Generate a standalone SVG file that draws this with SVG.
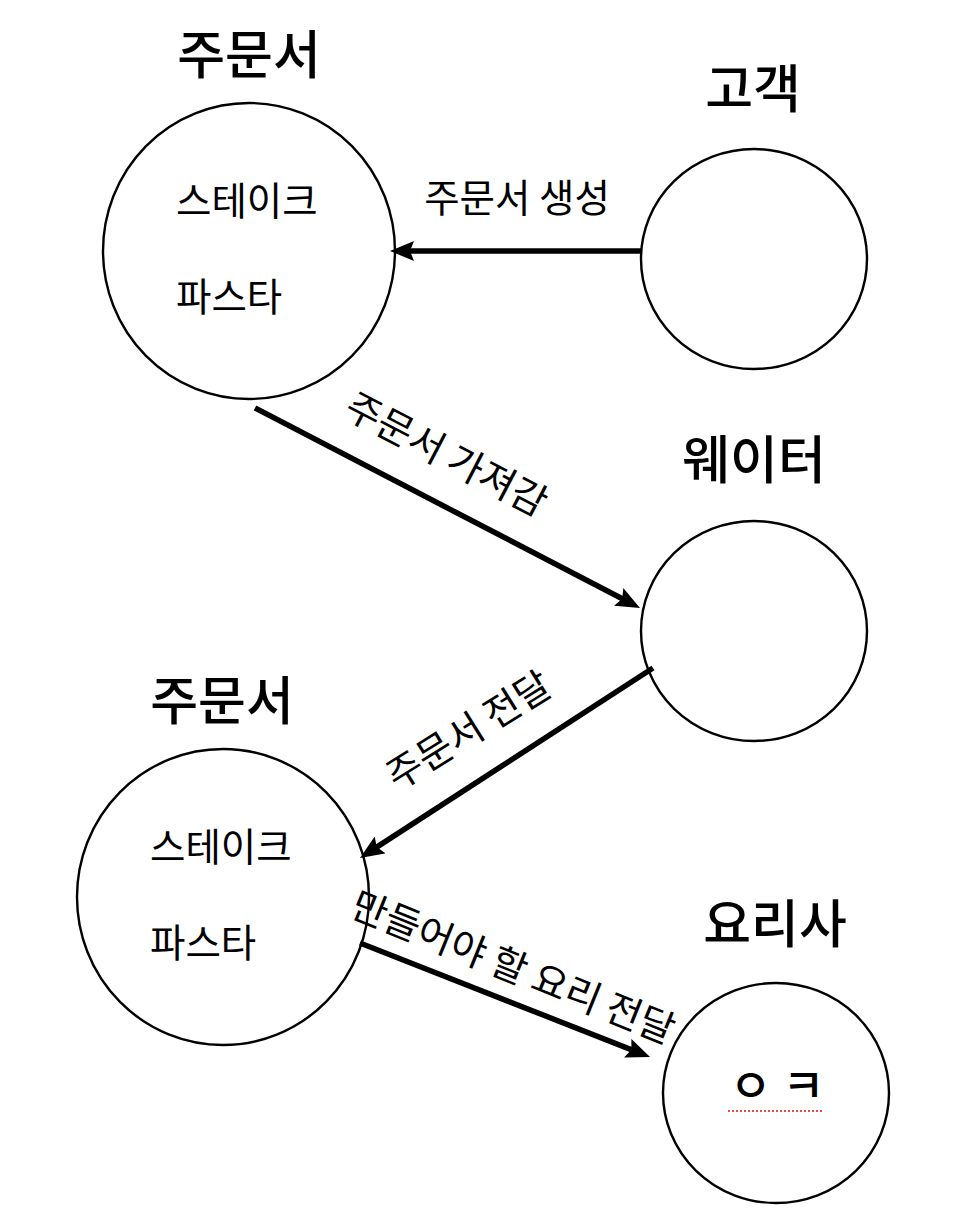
<svg xmlns="http://www.w3.org/2000/svg" width="974" height="1226" viewBox="0 0 974 1226">
<style>
text{font-family:"Noto Sans CJK KR","Noto Sans",sans-serif;fill:#000}
.title{font-size:52px;font-weight:500;text-anchor:middle}
.item{font-size:38.5px}
.lbl{font-size:38.5px;text-anchor:middle}
.node{fill:#fff;stroke:#000;stroke-width:2.4}
.edge{stroke:#000;stroke-width:5.5;fill:none;marker-end:url(#arr)}
</style>
<defs>
<marker id="arr" viewBox="0 0 24 20" refX="16" refY="10" markerWidth="24" markerHeight="20" markerUnits="userSpaceOnUse" orient="auto">
<path d="M0,0 L24,10 L0,20 L4,10 z" fill="#000"/>
</marker>
</defs>
<rect width="974" height="1226" fill="#fff"/>
<g id="order1">
<ellipse class="node" cx="249" cy="251" rx="146" ry="148"/>
<text class="title" x="249" y="74">주문서</text>
<text class="item" x="176" y="215">스테이크</text>
<text class="item" x="176" y="311">파스타</text>
</g>
<g id="customer">
<ellipse class="node" cx="754" cy="259" rx="113" ry="110"/>
<text class="title" x="753" y="108">고객</text>
</g>
<g id="waiter">
<ellipse class="node" cx="754" cy="631" rx="113" ry="110"/>
<text class="title" x="754" y="479">웨이터</text>
</g>
<g id="order2">
<ellipse class="node" cx="223" cy="897" rx="146" ry="148"/>
<text class="title" x="222" y="720">주문서</text>
<text class="item" x="150" y="861">스테이크</text>
<text class="item" x="150" y="957">파스타</text>
</g>
<g id="chef">
<ellipse class="node" cx="776" cy="1093" rx="113" ry="110"/>
<text class="title" x="775" y="943">요리사</text>
<text x="777" y="1102" text-anchor="middle" style="font-size:46px;font-weight:500">ㅇ ㅋ</text>
<line x1="728" y1="1111" x2="823" y2="1111" stroke="#e8493f" stroke-width="2" stroke-dasharray="2,2"/>
</g>
<g id="connectors">
<line class="edge" x1="641" y1="251" x2="398" y2="251"/>
<line class="edge" x1="255" y1="408" x2="632.9" y2="604.3"/>
<line class="edge" x1="653" y1="668" x2="366.7" y2="853.6"/>
<line class="edge" x1="360" y1="943" x2="642.6" y2="1054.1"/>
<text class="lbl" x="517" y="212">주문서 생성</text>
<text class="lbl" x="0" y="0" transform="translate(446,455) rotate(27.5) translate(0,13)">주문서 가져감</text>
<text class="lbl" x="0" y="0" transform="translate(469,731) rotate(-32) translate(0,13)">주문서 전달</text>
<text class="lbl" x="0" y="0" transform="translate(513,968) rotate(22) translate(0,13)">만들어야 할 요리 전달</text>
</g>
</svg>
